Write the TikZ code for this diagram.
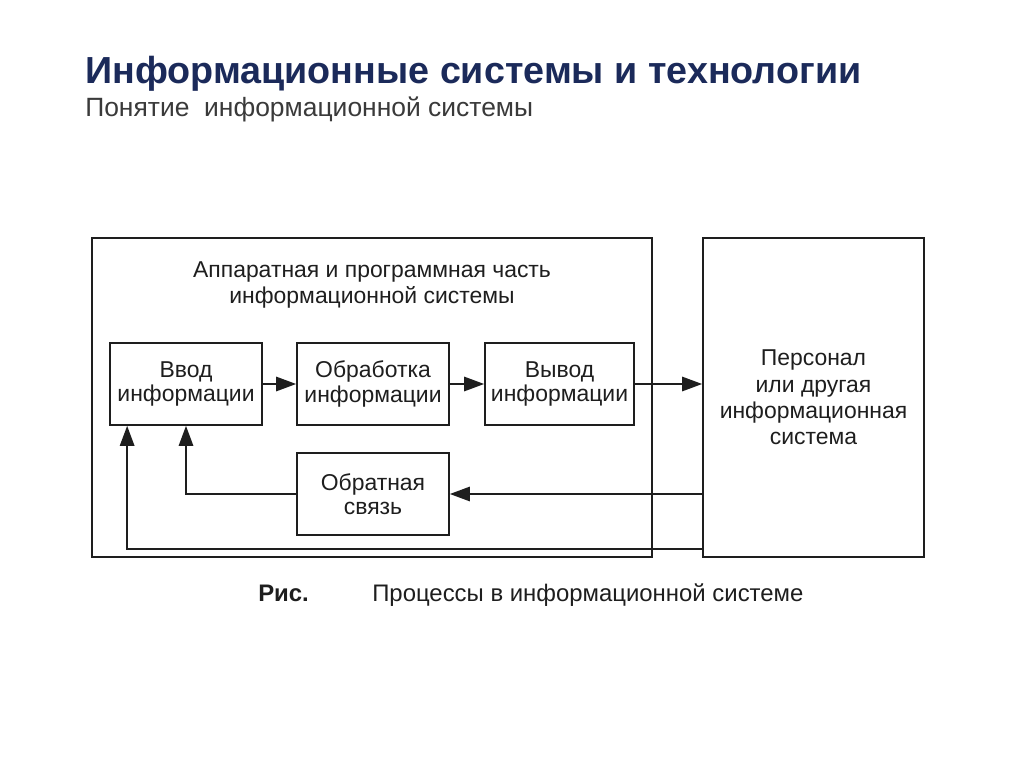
\documentclass[tikz,border=0pt]{standalone}
\usepackage{fontspec}
\setmainfont{Liberation Sans}
\usetikzlibrary{arrows.meta}
\definecolor{titleblue}{HTML}{1B2A5A}
\definecolor{subgray}{HTML}{3A3A3A}
\definecolor{inkgray}{HTML}{1E1E1E}
\begin{document}
\begin{tikzpicture}[x=0.025cm, y=-0.025cm,
		block/.style={draw=inkgray, line width=1.2pt, minimum width=3.8cm, minimum height=2.05cm, align=center, font=\fontsize{16.3}{17.3}\selectfont, text=inkgray, inner sep=0pt},
		frame/.style={draw=inkgray, line width=1.2pt, minimum height=7.975cm, align=center, font=\fontsize{16.3}{18.7}\selectfont, text=inkgray, inner sep=0pt},
		arr/.style={draw=inkgray, line width=1.2pt, -{Triangle[length=5mm, width=3.6mm]}}]
	\useasboundingbox[fill=white] (0,0) rectangle (1024,767);
	% titles
	\node[anchor=base west, font=\bfseries\fontsize{26.8}{32}\selectfont, text=titleblue, inner sep=0pt] (title) at (85,84) {Информационные системы и технологии};
	\node[anchor=base west, font=\fontsize{18.8}{22}\selectfont, text=subgray, inner sep=0pt] (subtitle) at (85,117) {Понятие\ \ информационной системы};
	% outer frames
	\node[frame, minimum width=14cm] (hw) at (372,397.5) {};
	\node[frame, minimum width=5.525cm] (pers) at (813.5,397.5) {Персонал\\или другая\\информационная\\система};
	\node[align=center, font=\fontsize{16.3}{17.8}\selectfont, text=inkgray] (hwlabel) at (372,285) {Аппаратная и программная часть\\информационной системы};
	% process blocks
	\node[block] (in) at (186,384) {Ввод\\информации};
	\node[block] (proc) at (373,384) {Обработка\\информации};
	\node[block, minimum width=3.725cm] (out) at (559.5,384) {Вывод\\информации};
	\node[block] (fb) at (373,494) {Обратная\\связь};
	% connectors
	\draw[arr] (in.east) -- (proc.west);
	\draw[arr] (proc.east) -- (out.west);
	\draw[arr] (out.east) -- (out.east -| pers.west);
	\draw[arr] (fb.east -| pers.west) -- (fb.east);
	\draw[arr] (fb.west) -| (in.south);
	\draw[arr] ([yshift=0.225cm]pers.south west) -| ([xshift=0.45cm]in.south west);
	% caption
	\node[anchor=base west, font=\bfseries\fontsize{17}{20}\selectfont, text=inkgray, inner sep=0pt] (figlabel) at (258,601) {Рис.};
	\node[anchor=base west, font=\fontsize{17}{20}\selectfont, text=inkgray, inner sep=0pt] (caption) at (372,601) {Процессы в информационной системе};
\end{tikzpicture}
\end{document}
